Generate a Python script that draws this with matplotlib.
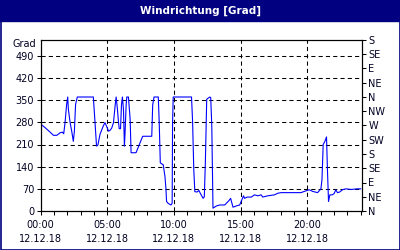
import matplotlib
matplotlib.use('Agg')
import matplotlib.pyplot as plt
import matplotlib.patches as patches
import matplotlib.transforms as mtransforms

# wind direction, hours since 00:00 on 12.12.18
hours = [0.0, 0.35, 0.72, 0.97, 1.22, 1.47, 1.64, 1.74, 1.84, 1.96, 2.04, 2.09,
         2.22, 2.34, 2.46, 2.54, 2.63, 2.76, 3.96, 4.08, 4.2, 4.3, 4.46, 4.7,
         4.83, 5.0, 5.1, 5.22, 5.34, 5.47, 5.6, 5.67, 5.77, 5.84, 5.9, 6.0,
         6.07, 6.14, 6.22, 6.29, 6.34, 6.42, 6.47, 6.59, 6.72, 6.79, 7.16, 7.41,
         7.66, 8.34, 8.41, 8.51, 8.83, 8.9, 8.98, 9.2, 9.33, 9.4, 9.45, 9.57,
         9.78, 9.87, 9.9, 9.95, 11.32, 11.4, 11.49, 11.57, 11.74, 11.87, 11.99, 12.19,
         12.28, 12.36, 12.46, 12.69, 12.76, 12.84, 12.93, 13.19, 13.43, 13.81, 14.13, 14.25,
         14.43, 14.68, 14.93, 15.22, 15.3, 15.49, 15.8, 16.04, 16.29, 16.54, 16.66, 17.04,
         17.54, 17.78, 18.04, 18.66, 19.53, 19.78, 20.15, 20.4, 20.77, 21.02, 21.1, 21.19,
         21.32, 21.44, 21.51, 21.59, 21.69, 21.87, 22.01, 22.14, 22.26, 22.43, 22.63, 22.89,
         23.28, 23.75, 24.0]
direction = [275, 263, 249, 239, 239, 247, 249, 244, 279, 337, 360, 321,
             279, 252, 220, 252, 337, 360, 360, 284, 205, 208, 242, 268,
             279, 263, 252, 255, 262, 279, 335, 360, 320, 284, 260, 260,
             335, 360, 320, 205, 248, 335, 360, 360, 290, 184, 184, 210,
             236, 236, 335, 360, 360, 279, 152, 146, 109, 72, 30, 24,
             19, 25, 279, 360, 360, 284, 130, 61, 60, 65, 55, 40,
             45, 157, 353, 360, 358, 268, 9, 16, 19, 19, 33, 40,
             12, 16, 19, 48, 40, 44, 44, 51, 48, 51, 44, 48,
             51, 56, 58, 58, 58, 62, 67, 62, 58, 70, 99, 210,
             220, 234, 130, 30, 51, 51, 55, 67, 58, 60, 67, 70,
             68, 70, 70]

left_ticks = [0, 70, 140, 210, 280, 350, 420, 490]
compass_ticks = [0, 45, 90, 135, 180, 225, 270, 315, 360, 405, 450, 495, 540]
compass_labels = ['N', 'NE', 'E', 'SE', 'S', 'SW', 'W', 'NW', 'N', 'NE', 'E', 'SE', 'S']
time_ticks = [0, 5, 10, 15, 20]
time_labels = ['00:00\n12.12.18', '05:00\n12.12.18', '10:00\n12.12.18',
               '15:00\n12.12.18', '20:00\n12.12.18']

navy = '#000080'
txt = '#000022'
fs = 7

fig = plt.figure(figsize=(4, 2.5), dpi=100, facecolor='white')

# title bar and frame
fig.patches.append(patches.Rectangle((0, 1 - 20.5 / 250), 1, 20.5 / 250,
                                     transform=fig.transFigure, color=navy, zorder=0))
fig.patches.append(patches.Rectangle((0.5 / 400, 0.5 / 250), 399 / 400, 249 / 250,
                                     transform=fig.transFigure, fill=False,
                                     edgecolor=navy, lw=1.2, zorder=0))
fig.text(0.5, 1 - 10.5 / 250, 'Windrichtung [Grad]', color='white', fontsize=7.5,
         fontweight='bold', ha='center', va='center')

ax = fig.add_axes([40.5 / 400, 1 - 211 / 250, 321.5 / 400, 171 / 250])
ax.plot(hours, direction, color='#0000ff', lw=0.8, zorder=3)

ax.set_xlim(0, 24.1)
ax.set_ylim(0, 540)
ax.set_yticks(left_ticks)
ax.set_yticklabels([str(v) for v in left_ticks])
ax.set_xticks(time_ticks)
ax.set_xticklabels(time_labels, linespacing=1.55)
ax.set_xticks(range(0, 25), minor=True)

ax.grid(True, color='black', linestyle=(0, (4, 3)), lw=0.75)
for s in ax.spines.values():
    s.set_linewidth(0.8)

ax.tick_params(axis='both', which='both', direction='out', length=3, width=0.75,
               labelsize=fs, colors='black', labelcolor=txt)
ax.tick_params(axis='y', pad=1.5)
ax.tick_params(axis='x', pad=3.5)

trans = mtransforms.blended_transform_factory(ax.transAxes, ax.transData)
ax.text(-0.014, 527, 'Grad', transform=trans, ha='right', va='center',
        fontsize=fs, color=txt)

ax2 = ax.twinx()
ax2.set_ylim(0, 540)
ax2.set_yticks(compass_ticks)
ax2.set_yticklabels(compass_labels)
ax2.tick_params(axis='y', direction='out', length=3, width=0.75, pad=1.5,
                labelsize=fs, colors='black', labelcolor=txt)
for s in ax2.spines.values():
    s.set_linewidth(0.8)

fig.savefig('out.png', dpi=100, facecolor='white')
